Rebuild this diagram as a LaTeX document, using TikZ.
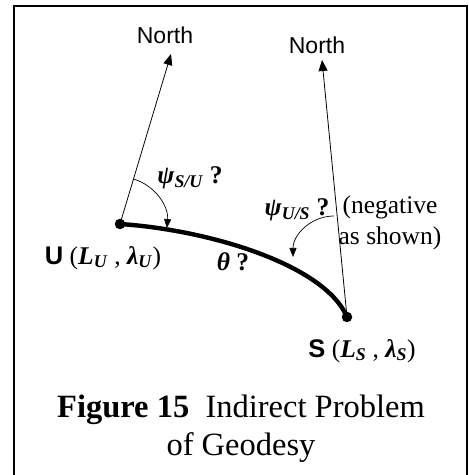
\documentclass[tikz,border=0pt]{standalone}
\usepackage{fontspec}
\setmainfont{Liberation Serif}
\newfontfamily\geosans{Liberation Sans}
\usetikzlibrary{arrows.meta,positioning}
\newcommand{\bi}[1]{\textbf{\textit{#1}}}
\newcommand{\bisub}[2]{\bi{#1}\textsubscript{\bi{#2}}}
\tikzset{
  pt/.style={circle, fill=black, inner sep=0pt, minimum size=10.5pt},
  nth/.style={font=\geosans\fontsize{23}{26}\selectfont, inner sep=1pt},
  lbl/.style={font=\fontsize{25.5}{31}\selectfont, inner sep=1pt, align=center},
  figcap/.style={font=\fontsize{32.5}{38}\selectfont, align=center, inner sep=0pt},
  nline/.style={-{Triangle[length=11pt,width=9pt]}, line width=0.8pt},
  ang/.style={-{Triangle[length=9pt,width=7pt]}, line width=0.7pt},
  geo/.style={line width=4.4pt},
}

\begin{document}
\begin{tikzpicture}[x=1pt,y=1pt]
  \useasboundingbox (0,0) rectangle (469,475);
  \clip (0,0) rectangle (469,475);
  \draw[line width=2.6pt] (14,-20) rectangle (467,469);
  % end points of the geodesic
  \node[pt] (U) at (120,251) {};
  \node[pt] (S) at (347,158) {};
  \coordinate (tipU) at (171,421);
  \coordinate (tipS) at (322,415);
  \node[nth] (northU) at (165,440) {North};
  \node[nth] (northS) at (317,430) {North};
  \draw[nline] (U.center) -- (tipU);
  \draw[nline] (S.center) -- (tipS);
  \draw[geo] (U.center) .. controls (210,245) and (325,210) .. (S.center);
  % azimuth arcs
  \draw[ang] (U.center) ++(73:47) arc[start angle=73, end angle=-5, radius=47];
  \coordinate (cS) at (334,218);
  \draw[ang] (cS) ++(90:41) arc[start angle=90, end angle=180, radius=41];
  % labels
  \node[lbl] (psiU) at (190,297) {\bisub{ψ}{S/U} \textbf{?}};
  \node[lbl] (psiS) at (297,265) {\bisub{ψ}{U/S} \textbf{?}};
  \node[lbl] (neg) at (390,252) {(negative\\as shown)};
  \node[lbl] (theta) at (233,213) {\bi{θ} \textbf{?}};
  \node[lbl] (labU) at (103,217) {{\geosans\bfseries U} (\bisub{L}{U} , \bisub{λ}{U})};
  \node[lbl] (labS) at (362,124) {{\geosans\bfseries S} (\bisub{L}{S} , \bisub{λ}{S})};
  \node[figcap] (capt) at (241,46) {\textbf{Figure 15}\ \ Indirect Problem\\of Geodesy};
\end{tikzpicture}
\end{document}
